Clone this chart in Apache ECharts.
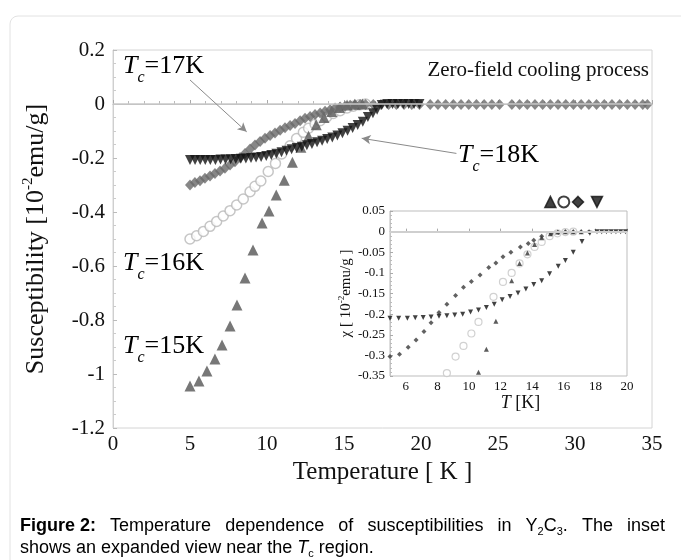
<!DOCTYPE html>
<html><head><meta charset="utf-8">
<script src="https://cdn.jsdelivr.net/npm/echarts@6/dist/echarts.min.js"></script>
<style>html,body{margin:0;padding:0;background:#fff}#c{width:681px;height:560px}</style>
</head><body><div id="c"></div>
<script>
const SERIF = '"Liberation Serif","Times New Roman",serif';
const SANS = '"Liberation Sans",Arial,sans-serif';

// ---------- main chart ----------
const mainXTicks = [0, 5, 10, 15, 20, 25, 30, 35];
const mainYTicks = [-1.2, -1, -0.8, -0.6, -0.4, -0.2, 0, 0.2];

// Tc = 15K (filled triangles)
const mainTriX = [5.0, 5.58, 6.1, 6.62, 7.08, 7.6, 8.05, 8.57, 9.09, 9.68, 10.13, 10.6, 11.12, 11.65, 12.2, 12.7, 13.2, 13.7, 14.2, 14.7, 15.2, 15.7, 16.2];
const mainTriY = [-1.044, -1.026, -0.989, -0.944, -0.893, -0.822, -0.744, -0.644, -0.541, -0.441, -0.396, -0.337, -0.282, -0.216, -0.16, -0.119, -0.077, -0.05, -0.028, -0.013, -0.004, -0.001, 0];

// Tc = 16K (open circles)
const mainCircX = [5.0, 5.43, 5.87, 6.3, 6.73, 7.16, 7.6, 8.03, 8.46, 8.9, 9.22, 9.6, 10.08, 10.55, 10.95, 11.5, 11.92, 12.36, 12.7, 13.12, 13.45, 13.88, 14.3, 14.75, 15.2, 15.6, 16.0, 16.4];
const mainCircY = [-0.500, -0.488, -0.472, -0.453, -0.435, -0.415, -0.395, -0.374, -0.352, -0.325, -0.305, -0.285, -0.250, -0.220, -0.185, -0.155, -0.128, -0.105, -0.090, -0.075, -0.062, -0.048, -0.035, -0.025, -0.015, -0.008, -0.003, 0];

// Tc = 17K (diamonds)
const mainDiaX = [5.0, 5.32, 5.65, 5.97, 6.3, 6.62, 6.95, 7.27, 7.6, 7.92, 8.25, 8.57, 8.9, 9.22, 9.55, 9.87, 10.2, 10.52, 10.85, 11.17, 11.5, 11.82, 12.15, 12.47, 12.8, 13.12, 13.45, 13.77, 14.1, 14.42, 14.75, 15.07, 15.4, 15.72, 16.05,
  16.4, 16.9, 17.4, 17.9, 18.4, 18.9, 19.4, 19.9, 20.6, 21.1, 21.6, 22.1, 22.6, 23.1, 23.6, 24.1, 24.6, 25.1,
  25.9, 26.4, 26.9, 27.4, 27.9, 28.4, 28.9, 29.4, 29.9, 30.4, 30.9, 31.4, 31.9, 32.4, 32.9, 33.4, 33.9, 34.4, 34.7];
const mainDiaY = [-0.300, -0.291, -0.284, -0.275, -0.267, -0.257, -0.248, -0.238, -0.226, -0.214, -0.198, -0.183, -0.167, -0.152, -0.139, -0.127, -0.117, -0.107, -0.097, -0.088, -0.080, -0.072, -0.062, -0.053, -0.046, -0.039, -0.033, -0.027, -0.021, -0.015, -0.011, -0.008, -0.005, -0.003, -0.002,
  -0.002, -0.002, -0.002, -0.002, -0.002, -0.002, -0.002, -0.002, -0.002, -0.002, -0.002, -0.002, -0.002, -0.002, -0.002, -0.002, -0.002, -0.002,
  -0.002, -0.002, -0.002, -0.002, -0.002, -0.002, -0.002, -0.002, -0.002, -0.002, -0.002, -0.002, -0.002, -0.002, -0.002, -0.002, -0.002, -0.002, -0.002];

// Tc = 18K (down triangles)
const mainDownX = [5.0, 5.33, 5.66, 5.99, 6.32, 6.65, 6.98, 7.31, 7.64, 7.97, 8.3, 8.63, 8.96, 9.29, 9.62, 9.95, 10.28, 10.61, 10.94, 11.27, 11.6, 11.93, 12.26, 12.59, 12.92, 13.25, 13.58, 13.91, 14.24, 14.57, 14.9, 15.23, 15.56, 15.89, 16.22, 16.55, 16.88, 17.15, 17.45, 17.8, 18.15, 18.5, 18.85, 19.2, 19.55, 19.9];
const mainDownY = [-0.207, -0.207, -0.207, -0.207, -0.207, -0.207, -0.206, -0.206, -0.205, -0.204, -0.203, -0.202, -0.200, -0.198, -0.196, -0.193, -0.189, -0.184, -0.179, -0.173, -0.168, -0.163, -0.158, -0.153, -0.148, -0.142, -0.136, -0.130, -0.124, -0.117, -0.108, -0.099, -0.089, -0.078, -0.066, -0.048, -0.034, -0.021, -0.004, 0, 0, 0, 0, 0, 0, 0];

// annotation arrows (data coordinates: start x, start y, end x, end y)
const arrow17 = [5.0, 0.089, 8.68, -0.103];
const arrow18 = [22.3, -0.183, 16.15, -0.127];

// ---------- inset ----------
const insetXTicks = [6, 8, 10, 12, 14, 16, 18, 20];
const insetYTicks = [-0.35, -0.3, -0.25, -0.2, -0.15, -0.1, -0.05, 0, 0.05];

const insetTriX = [10.6, 11.1, 11.7, 12.7, 13.2, 13.7, 14.15, 14.6, 15.15, 15.6, 16.1, 16.6, 17.1];
const insetTriY = [-0.341, -0.285, -0.217, -0.119, -0.077, -0.052, -0.031, -0.015, -0.005, -0.001, 0, 0, 0];

const insetCircX = [8.6, 9.15, 9.65, 10.15, 10.6, 11.55, 12.15, 12.7, 13.2, 13.7, 14.15, 14.6, 15.1, 15.6, 16.1, 16.6];
const insetCircY = [-0.343, -0.303, -0.277, -0.247, -0.219, -0.158, -0.122, -0.100, -0.077, -0.055, -0.037, -0.025, -0.011, -0.004, -0.001, 0];

const insetDiaX = [5.0, 5.6, 6.15, 6.65, 7.15, 7.6, 8.1, 8.6, 9.15, 9.65, 10.15, 10.7, 11.25, 11.7, 12.15, 12.65, 13.25, 13.75, 14.1, 14.6, 15.2, 15.65, 16.1, 16.6, 17.1, 17.6];
const insetDiaY = [-0.303, -0.297, -0.280, -0.263, -0.242, -0.221, -0.196, -0.176, -0.155, -0.135, -0.121, -0.105, -0.087, -0.076, -0.061, -0.050, -0.037, -0.029, -0.021, -0.011, -0.005, -0.002, 0, 0, 0, 0];

const insetDownX = [5.0, 5.55, 6.1, 6.6, 7.1, 7.6, 8.1, 8.6, 9.1, 9.6, 10.1, 10.6, 11.1, 11.6, 12.1, 12.6, 13.1, 13.6, 14.1, 14.6, 15.1, 15.65, 16.1, 16.6, 17.15, 17.65, 18.1, 18.4, 18.7, 19.0, 19.3, 19.6, 19.9];
const insetDownY = [-0.210, -0.210, -0.210, -0.209, -0.208, -0.207, -0.205, -0.204, -0.202, -0.200, -0.195, -0.190, -0.184, -0.176, -0.165, -0.157, -0.149, -0.139, -0.128, -0.119, -0.102, -0.084, -0.070, -0.050, -0.024, -0.004, 0, 0, 0, 0, 0, 0, 0];

// Tc markers above the inset, with arrows
const insetTcX = [15.15, 16.0, 16.9, 18.1];
const insetTcSymbols = ['triangle', 'emptyCircle', 'diamond', 'triangle'];
const insetTcRotate = [0, 0, 0, 180];
const insetTcMarkY = 0.072;
const insetTcArrowTop = 0.062;
const insetTcArrowBottom = 0.006;

// ---------- text ----------
const tcLabels = ['=17K', '=16K', '=15K', '=18K'];
const zeroFieldText = 'Zero-field cooling process';

const zip = (xs, ys) => xs.map((x, i) => [x, ys[i]]);
const fmt = v => String(+v.toFixed(2));
const TXT = '#111';

const chart = echarts.init(document.getElementById('c'), null, {renderer: 'canvas'});

// ---- caption layout (justified first line) ----
const CAP_COLOR = '#333';
const CAP_SIZE = 18;
const capStyles = {
  n: {fontFamily: SANS, fontSize: CAP_SIZE, color: CAP_COLOR, lineHeight: 22, verticalAlign: 'middle'},
  b: {fontFamily: SANS, fontSize: CAP_SIZE, color: CAP_COLOR, fontWeight: 'bold', lineHeight: 22, verticalAlign: 'middle'},
  i: {fontFamily: SANS, fontSize: CAP_SIZE, color: CAP_COLOR, fontStyle: 'italic', lineHeight: 22, verticalAlign: 'middle'},
  s: {fontFamily: SANS, fontSize: 11, color: CAP_COLOR, verticalAlign: 'bottom'}
};
const mctx = document.createElement('canvas').getContext('2d');
function tokWidth(st, t) {
  const s = capStyles[st];
  mctx.font = (s.fontStyle || 'normal') + ' normal ' + (s.fontWeight || 'normal') + ' ' + s.fontSize + 'px ' + s.fontFamily;
  return mctx.measureText(t).width;
}
const cap1 = [
  [['b', 'Figure 2:']], [['n', 'Temperature']], [['n', 'dependence']], [['n', 'of']],
  [['n', 'susceptibilities']], [['n', 'in']],
  [['n', 'Y'], ['s', '2'], ['n', 'C'], ['s', '3'], ['n', '.']],
  [['n', 'The']], [['n', 'inset']]
];
const CAP_L = 20, CAP_R = 665, CAP_Y1 = 526, CAP_Y2 = 548;
const wordW = cap1.map(w => w.reduce((a, [st, t]) => a + tokWidth(st, t), 0));
const totalW = wordW.reduce((a, b) => a + b, 0);
const gap = (CAP_R - CAP_L - totalW) / (cap1.length - 1);
const capGraphics = [];
let cx = CAP_L;
cap1.forEach((w, i) => {
  capGraphics.push({
    type: 'text', x: cx, y: CAP_Y1, silent: true,
    style: {text: w.map(([st, t]) => '{' + st + '|' + t + '}').join(''), rich: capStyles, align: 'left', verticalAlign: 'middle'}
  });
  cx += wordW[i] + gap;
});
capGraphics.push({
  type: 'text', x: CAP_L, y: CAP_Y2, silent: true,
  style: {text: '{n|shows an expanded view near the }{i|T}{s|c}{n| region.}', rich: capStyles, align: 'left', verticalAlign: 'middle'}
});

// ---- Tc labels ----
const tcRich = {
  t: {fontFamily: SERIF, fontSize: 26, fontStyle: 'italic', color: TXT, lineHeight: 40, verticalAlign: 'middle'},
  c: {fontFamily: SERIF, fontSize: 16, fontStyle: 'italic', color: TXT, verticalAlign: 'bottom'},
  n: {fontFamily: SERIF, fontSize: 26, color: TXT, lineHeight: 40, verticalAlign: 'middle'}
};
const tcPos = [[123, 46], [123, 243], [123, 326], [458, 135]];
const tcGraphics = tcLabels.map((lab, i) => ({
  type: 'text', x: tcPos[i][0], y: tcPos[i][1], silent: true, z: 10,
  style: {text: '{t|T}{c|c}{n|' + lab + '}', rich: tcRich, align: 'left', verticalAlign: 'top'}
}));

const arrowLine = a => [{coord: [a[0], a[1]]}, {coord: [a[2], a[3]]}];

const option = {
  animation: false,
  backgroundColor: '#fff',
  grid: [
    {left: 113, right: 29, top: 50, bottom: 132, show: true, borderColor: '#d4d4d4', borderWidth: 1, backgroundColor: 'transparent'},
    {left: 390, right: 54, top: 211, bottom: 184, show: true, borderColor: '#bdbdbd', borderWidth: 1, backgroundColor: 'transparent'}
  ],
  xAxis: [
    {
      type: 'value', gridIndex: 0, min: mainXTicks[0], max: mainXTicks[mainXTicks.length - 1], interval: 5,
      axisLine: {show: true, lineStyle: {color: '#b8b8b8', width: 1}},
      axisTick: {show: true, inside: true, length: 4, lineStyle: {color: '#aaa'}},
      minorTick: {show: true, splitNumber: 5, length: 3, lineStyle: {color: '#bbb'}},
      splitLine: {show: false},
      axisLabel: {fontFamily: SERIF, fontSize: 21, color: TXT, margin: 6, formatter: fmt},
      name: 'Temperature [ K ]', nameLocation: 'middle', nameGap: 23,
      nameTextStyle: {fontFamily: SERIF, fontSize: 25, color: TXT}
    },
    {
      type: 'value', gridIndex: 1, min: 5, max: 20,
      axisLine: {show: true, lineStyle: {color: '#bdbdbd'}},
      axisTick: {show: true, inside: true, length: 3, customValues: insetXTicks, lineStyle: {color: '#aaa'}},
      splitLine: {show: false},
      axisLabel: {fontFamily: SERIF, fontSize: 13, color: TXT, margin: 4, customValues: insetXTicks, formatter: fmt},
      name: '{i|T}{n| [K]}', nameLocation: 'middle', nameGap: 17,
      nameTextStyle: {padding: [0, 0, 0, 24], rich: {
        i: {fontFamily: SERIF, fontSize: 18, fontStyle: 'italic', color: TXT},
        n: {fontFamily: SERIF, fontSize: 18, color: TXT}}}
    }
  ],
  yAxis: [
    {
      type: 'value', gridIndex: 0, min: mainYTicks[0], max: mainYTicks[mainYTicks.length - 1], interval: 0.2,
      axisLine: {show: true, lineStyle: {color: '#cfcfcf'}},
      axisTick: {show: true, inside: true, length: 4, lineStyle: {color: '#bbb'}},
      minorTick: {show: true, splitNumber: 4, length: 3, lineStyle: {color: '#ccc'}},
      splitLine: {show: false},
      axisLabel: {fontFamily: SERIF, fontSize: 21, color: TXT, margin: 8, formatter: fmt},
      name: '{a|Susceptibility [10}{s|-2}{a|emu/g]}', nameLocation: 'middle', nameGap: 62, nameRotate: 90,
      nameTextStyle: {rich: {
        a: {fontFamily: SERIF, fontSize: 26, color: TXT, lineHeight: 30, verticalAlign: 'middle'},
        s: {fontFamily: SERIF, fontSize: 15, color: TXT, verticalAlign: 'top'}}}
    },
    {
      type: 'value', gridIndex: 1, min: insetYTicks[0], max: insetYTicks[insetYTicks.length - 1], interval: 0.05,
      axisLine: {show: true, lineStyle: {color: '#c4c4c4'}},
      axisTick: {show: true, inside: true, length: 3, lineStyle: {color: '#aaa'}},
      minorTick: {show: true, splitNumber: 5, length: 2, lineStyle: {color: '#bbb'}},
      splitLine: {show: false},
      axisLabel: {fontFamily: SERIF, fontSize: 13, color: TXT, margin: 5, formatter: fmt},
      name: '{a|χ [ 10}{s|-2}{a|emu/g ]}', nameLocation: 'middle', nameGap: 35, nameRotate: 90,
      nameTextStyle: {rich: {
        a: {fontFamily: SERIF, fontSize: 15, color: TXT, lineHeight: 18, verticalAlign: 'middle'},
        s: {fontFamily: SERIF, fontSize: 9, color: TXT, verticalAlign: 'top'}}}
    }
  ],
  series: [
    {
      type: 'scatter', name: 'Tc=16K', xAxisIndex: 0, yAxisIndex: 0, data: zip(mainCircX, mainCircY),
      symbol: 'circle', symbolSize: 10,
      itemStyle: {color: '#fff', borderColor: '#b8b8b8', borderWidth: 1.5},
      markLine: {silent: true, symbol: ['none', 'none'], label: {show: false},
        lineStyle: {color: '#c8c8c8', width: 1.5, type: 'solid'}, data: [{yAxis: 0}]}
    },
    {
      type: 'scatter', name: 'Tc=15K', xAxisIndex: 0, yAxisIndex: 0, data: zip(mainTriX, mainTriY),
      symbol: 'triangle', symbolSize: 11, itemStyle: {color: '#555'}
    },
    {
      type: 'scatter', name: 'Tc=17K', xAxisIndex: 0, yAxisIndex: 0, data: zip(mainDiaX, mainDiaY),
      symbol: 'diamond', symbolSize: [10, 11], itemStyle: {color: '#696969'},
      markLine: {silent: true, symbol: ['none', 'arrow'], symbolSize: [7, 9], label: {show: false},
        lineStyle: {color: '#8a8a8a', width: 1, type: 'solid'}, data: [arrowLine(arrow17), arrowLine(arrow18)]}
    },
    {
      type: 'scatter', name: 'Tc=18K', xAxisIndex: 0, yAxisIndex: 0, data: zip(mainDownX, mainDownY),
      symbol: 'triangle', symbolRotate: 180, symbolSize: 10, itemStyle: {color: '#111'}
    },
    // inset
    {
      type: 'scatter', xAxisIndex: 1, yAxisIndex: 1, data: zip(insetCircX, insetCircY),
      symbol: 'circle', symbolSize: 7,
      itemStyle: {color: '#fff', borderColor: '#c6c6c6', borderWidth: 1.2},
      markLine: {silent: true, symbol: ['none', 'none'], label: {show: false},
        lineStyle: {color: '#cfcfcf', width: 2, type: 'solid'}, data: [{yAxis: 0}]}
    },
    {
      type: 'scatter', xAxisIndex: 1, yAxisIndex: 1, data: zip(insetTriX, insetTriY),
      symbol: 'triangle', symbolSize: 5, itemStyle: {color: '#333'}
    },
    {
      type: 'scatter', xAxisIndex: 1, yAxisIndex: 1, data: zip(insetDiaX, insetDiaY),
      symbol: 'diamond', symbolSize: 5, itemStyle: {color: '#3a3a3a'}
    },
    {
      type: 'scatter', xAxisIndex: 1, yAxisIndex: 1, data: zip(insetDownX, insetDownY),
      symbol: 'triangle', symbolRotate: 180, symbolSize: 5, itemStyle: {color: '#111'}
    },
    {
      type: 'scatter', xAxisIndex: 1, yAxisIndex: 1, clip: false,
      data: insetTcX.map((x, i) => ({value: [x, insetTcMarkY], symbol: insetTcSymbols[i], symbolRotate: insetTcRotate[i]})),
      symbolSize: 11, itemStyle: {color: '#111', borderColor: '#111', borderWidth: 1.5},
      markLine: {silent: true, symbol: ['none', 'triangle'], symbolSize: [5, 5], label: {show: false},
        lineStyle: {color: '#777', width: 1, type: 'solid'},
        data: insetTcX.map(x => [{coord: [x, insetTcArrowTop]}, {coord: [x, insetTcArrowBottom]}])}
    }
  ],
  graphic: [
    {type: 'rect', silent: true, z: -10, shape: {x: 10, y: 16, width: 700, height: 600, r: 8},
      style: {fill: 'none', stroke: '#e2e2e2', lineWidth: 1}},
    {type: 'text', silent: true, x: 649, y: 70, z: 10,
      style: {text: zeroFieldText, fontFamily: SERIF, fontSize: 21, fill: TXT, align: 'right', verticalAlign: 'middle'}},
    ...tcGraphics,
    ...capGraphics
  ]
};
chart.setOption(option);
</script></body></html>
